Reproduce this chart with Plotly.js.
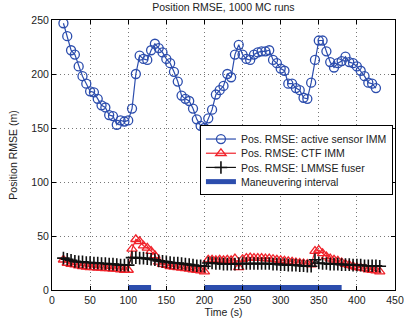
<!DOCTYPE html>
<html>
<head>
<meta charset="utf-8">
<script src="https://cdn.plot.ly/plotly-3.0.1.min.js"></script>
<style>html,body{margin:0;padding:0;background:#fff;}#chart{width:404px;height:320px;}</style>
</head>
<body>
<div id="chart"></div>
<script>
// Time grid (s)
var time = [15,20,25,30,35,40,45,50,55,60,65,70,75,80,85,90,95,100,105,110,115,120,125,130,135,140,145,150,155,160,165,170,175,180,185,190,195,200,205,210,215,220,225,230,235,240,245,250,255,260,265,270,275,280,285,290,295,300,305,310,315,320,325,330,335,340,345,350,355,360,365,370,375,380,385,390,395,400,405,410,415,420,425,430];

// Pos. RMSE: active sensor IMM (m), t = 15..425
var activeIMM = [247,235,222,218,207,198,191,184,183,177,171,169,162,161,153,157,156,157,168,200,217,214,213,222,228,224,220,214,210,202,193,180,177,175,168,158,152,150,159,167,181,185,189,200,197,218,227,218,214,213,218,220,221,221,222,213,210,205,203,191,191,187,185,178,177,192,213,231,231,221,211,206,210,212,216,211,210,207,203,198,192,191,187];

// Pos. RMSE: CTF IMM (m), t = 15..430
var ctfIMM = [28,25,24,23.5,22.5,22,21.5,21,21,20.5,20.5,20,20,19.5,19.5,19,18.5,18.5,38,47,45,41,39,36,32,26,24,23,22,21.5,21,20.5,20,19.5,19,18.5,18,17,28,28,27.5,28,27.5,28,27.5,29,21,28.5,29.5,30,29.5,29.5,29.5,29,29,28.5,28,27.5,27,26.5,26,25.5,25,24.5,24,23.5,36,37,34,31,29,28,27,25.5,24,23,22,21,20.5,20,19,18.5,18,17];

// Pos. RMSE: LMMSE fuser (m), t = 15..430
var lmmse = [29.5,28.5,27.5,26.5,26,26,25.5,25.5,25,25,24.5,24.5,24,24,23.5,23,23,23,30,30,29.5,29.5,29,28.5,28,27,26.5,26,25.5,25,25,24.5,24,23.5,23,22.5,22.5,22,25,25,24.5,24.5,24,24,24,24,24.5,24.5,24.5,24.5,24.5,24.5,24.5,24.5,24.5,24,24,23.5,23.5,23,23,23,22.5,22.5,22,22,28,25,24.5,24.5,24,24,24,23.5,23.5,23.5,23,23,23,22.5,22.5,22.5,22.5,22];

// Maneuvering intervals (s)
var maneuverStart = [100, 200];
var maneuverEnd = [130, 380];

var xTicks = [0,50,100,150,200,250,300,350,400,450];
var yTicks = [0,50,100,150,200,250];

var mx = [], my = [];
for (var i = 0; i < maneuverStart.length; i++) {
  mx.push(maneuverStart[i], maneuverEnd[i], null);
  my.push(0, 0, null);
}

var BLUE = '#2c4dad';
var RED = '#f0232b';
var FONT = 'Liberation Sans, Arial, sans-serif';

var traces = [
  {x: time.slice(0, activeIMM.length), y: activeIMM, mode: 'lines+markers', name: 'Pos. RMSE: active sensor IMM',
   line: {color: BLUE, width: 1.2}, marker: {symbol: 'circle-open', size: 9, color: BLUE, line: {width: 1.3, color: BLUE}}},
  {x: time, y: ctfIMM, mode: 'lines+markers', name: 'Pos. RMSE: CTF IMM',
   line: {color: RED, width: 1.2}, marker: {symbol: 'triangle-up-open', size: 9, color: RED, line: {width: 1.3, color: RED}}},
  {x: time, y: lmmse, mode: 'lines+markers', name: 'Pos. RMSE: LMMSE fuser',
   line: {color: '#111', width: 1.2}, marker: {symbol: 'cross-thin-open', size: 9, color: '#111', line: {width: 1.6, color: '#111'}}},
  {x: mx, y: my, mode: 'lines', name: 'Maneuvering interval',
   line: {color: BLUE, width: 10}}
];

var axisCommon = {
  showline: true, linecolor: '#000', linewidth: 1, mirror: 'ticks',
  ticks: 'inside', ticklen: 4, tickcolor: '#000',
  showgrid: true, gridcolor: '#777', gridwidth: 1, griddash: '1px,3px',
  zeroline: false, tickfont: {family: FONT, size: 10.5, color: '#222'}
};

var layout = {
  width: 404, height: 320,
  margin: {l: 52, r: 9, t: 20, b: 30},
  paper_bgcolor: '#fff', plot_bgcolor: '#fff',
  title: {text: 'Position RMSE, 1000 MC runs', font: {family: FONT, size: 10.5, color: '#222'},
          x: 0.553, xanchor: 'center', y: 0.977, yanchor: 'middle', yref: 'container'},
  xaxis: Object.assign({}, axisCommon, {range: [0, 450], tickvals: xTicks,
          title: {text: 'Time (s)', font: {family: FONT, size: 10.5, color: '#222'}, standoff: 2}}),
  yaxis: Object.assign({}, axisCommon, {range: [0, 250], tickvals: yTicks,
          title: {text: 'Position RMSE (m)', font: {family: FONT, size: 10.5, color: '#222'}, standoff: 11}}),
  showlegend: true,
  legend: {x: 0.994, xanchor: 'right', y: 0.611, yanchor: 'top', bgcolor: '#fff',
           bordercolor: '#000', borderwidth: 1, font: {family: FONT, size: 10.5, color: '#222'},
           tracegroupgap: 0, itemwidth: 30}
};

function parseT(s) {
  var m = /translate\(\s*([-\d.e]+)[ ,]+([-\d.e]+)\s*\)/.exec(s || '');
  return m ? [parseFloat(m[1]), parseFloat(m[2])] : [0, 0];
}

Plotly.newPlot('chart', traces, layout, {staticPlot: true, displayModeBar: false}).then(function (gd) {
  // tighten legend rows to match the compact reference legend
  var leg = gd.querySelector('g.legend');
  if (!leg) return;
  var items = leg.querySelectorAll('g.traces');
  if (items.length < 2) return;
  var p0 = parseT(items[0].getAttribute('transform'));
  var p1 = parseT(items[1].getAttribute('transform'));
  var oldRow = p1[1] - p0[1];
  var rowH = 14.2;
  var top = p0[1] - 1.5;
  for (var k = 0; k < items.length; k++) {
    var p = parseT(items[k].getAttribute('transform'));
    items[k].setAttribute('transform', 'translate(' + p[0] + ',' + (top + k * rowH) + ')');
  }
  var bg = leg.querySelector('rect.bg');
  if (bg) {
    var h = parseFloat(bg.getAttribute('height'));
    bg.setAttribute('height', h - (items.length - 1) * (oldRow - rowH) - 4);
  }
  var last = items[items.length - 1].querySelector('path.js-line');
  if (last) last.style.strokeWidth = '5px';
});
</script>
</body>
</html>
